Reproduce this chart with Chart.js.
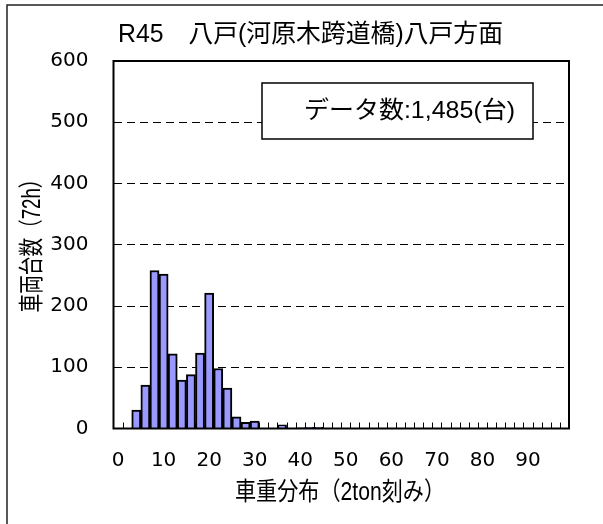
<!DOCTYPE html>
<html><head><meta charset="utf-8">
<script src="https://cdn.jsdelivr.net/npm/chart.js@4.4.1/dist/chart.umd.min.js"></script>
<style>html,body{margin:0;padding:0;background:#fff;}#wrap{width:603px;height:524px;position:relative;overflow:hidden;}</style>
</head><body><div id="wrap"><canvas id="c" width="603" height="524"></canvas></div>
<script>
// ---- data ----
const categories = ['0','2','4','6','8','10','12','14','16','18','20','22','24','26','28','30','32','34','36','38','40','42','44','46','48','50','52','54','56','58','60','62','64','66','68','70','72','74','76','78','80','82','84','86','88','90','92','94','96','98'];
const counts = [0,0,30,71,258,252,122,79,88,123,221,98,66,19,10,12,0,0,6,0,1,2,2,0,0,0,0,0,0,0,0,0,0,0,0,0,0,0,0,0,0,0,0,0,0,0,0,0,0,0];
const xTickLabels = ['0','10','20','30','40','50','60','70','80','90'];
const yTickValues = [0,100,200,300,400,500,600];
const titleText = 'R45　八戸(河原木跨道橋)八戸方面';
const xTitleText = '車重分布（2ton刻み）';
const yTitleText = '車両台数（72h）';
const boxText = 'データ数:1,485(台)';

const TXT_FONT = "'Liberation Sans','Noto Sans CJK JP',sans-serif";

function drawFit(ctx, text, cx, cy, width, size, rot) {
  ctx.save();
  ctx.font = size + 'px ' + TXT_FONT;
  const w = ctx.measureText(text).width;
  ctx.translate(cx, cy);
  if (rot) ctx.rotate(rot);
  ctx.scale(width / w, 1);
  ctx.fillStyle = '#000';
  ctx.textAlign = 'center';
  ctx.textBaseline = 'middle';
  ctx.fillText(text, 0, 0);
  ctx.restore();
}

const decor = {
  id: 'decor',
  beforeDatasetsDraw(chart) {
    const ctx = chart.ctx, x = chart.scales.x, a = chart.chartArea;
    ctx.save();
    ctx.strokeStyle = '#000';
    ctx.lineWidth = 1;
    for (let i = 1; i < categories.length; i++) {
      const px = Math.round((x.getPixelForValue(i - 1) + x.getPixelForValue(i)) / 2) + 0.5;
      ctx.beginPath();
      ctx.moveTo(px, a.bottom);
      ctx.lineTo(px, a.bottom - 6);
      ctx.stroke();
    }
    ctx.restore();
  },
  afterDraw(chart) {
    const ctx = chart.ctx, a = chart.chartArea;
    ctx.save();
    ctx.strokeStyle = '#000';
    ctx.lineWidth = 2;
    ctx.strokeRect(a.left, a.top, a.right - a.left, a.bottom - a.top);
    ctx.strokeStyle = '#222';
    ctx.lineWidth = 1.5;
    ctx.strokeRect(7, 5, 800, 800);
    ctx.fillStyle = '#fff';
    ctx.fillRect(262, 83, 271, 56);
    ctx.strokeStyle = '#000';
    ctx.lineWidth = 1.5;
    ctx.strokeRect(262, 83, 271, 56);
    ctx.restore();
    drawFit(ctx, boxText, 409.5, 111, 211, 24);
    drawFit(ctx, titleText, 310.5, 35, 385, 25);
    drawFit(ctx, xTitleText, 340, 493, 210, 25);
    drawFit(ctx, yTitleText, 33, 241, 143, 25, -Math.PI / 2);
  }
};

new Chart(document.getElementById('c'), {
  type: 'bar',
  data: {
    labels: categories,
    datasets: [{
      data: counts,
      backgroundColor: '#9999FF',
      borderColor: '#000',
      borderWidth: 2,
      barPercentage: 1,
      categoryPercentage: 1
    }]
  },
  options: {
    responsive: false,
    devicePixelRatio: 1,
    animation: false,
    events: [],
    layout: { padding: { top: 61, right: 34, left: 0, bottom: 0 } },
    plugins: { legend: { display: false }, title: { display: false }, tooltip: { enabled: false } },
    scales: {
      x: {
        type: 'category',
        offset: true,
        grid: { display: false, drawTicks: false },
        border: { display: false },
        afterFit(s) { s.height = 95.5; },
        ticks: {
          autoSkip: false,
          maxRotation: 0,
          padding: 20,
          color: '#000',
          font: { family: 'DejaVu Sans', size: 20 },
          callback(v, i) { return (i % 5 === 0 && i / 5 < xTickLabels.length) ? xTickLabels[i / 5] : ''; }
        }
      },
      y: {
        min: 0, max: 600,
        afterFit(s) { s.width = 113.5; },
        afterBuildTicks(s) { s.ticks = yTickValues.map(v => ({ value: v })); },
        grid: {
          drawTicks: false,
          lineWidth: 1,
          color(c) { return (c.tick && (c.tick.value === 0 || c.tick.value === 600)) ? 'rgba(0,0,0,0)' : '#000'; }
        },
        border: { display: false, dash: [8, 5] },
        ticks: {
          padding: 25,
          color: '#000',
          font: { family: 'DejaVu Sans', size: 20 }
        }
      }
    }
  },
  plugins: [decor]
});
</script></body></html>
